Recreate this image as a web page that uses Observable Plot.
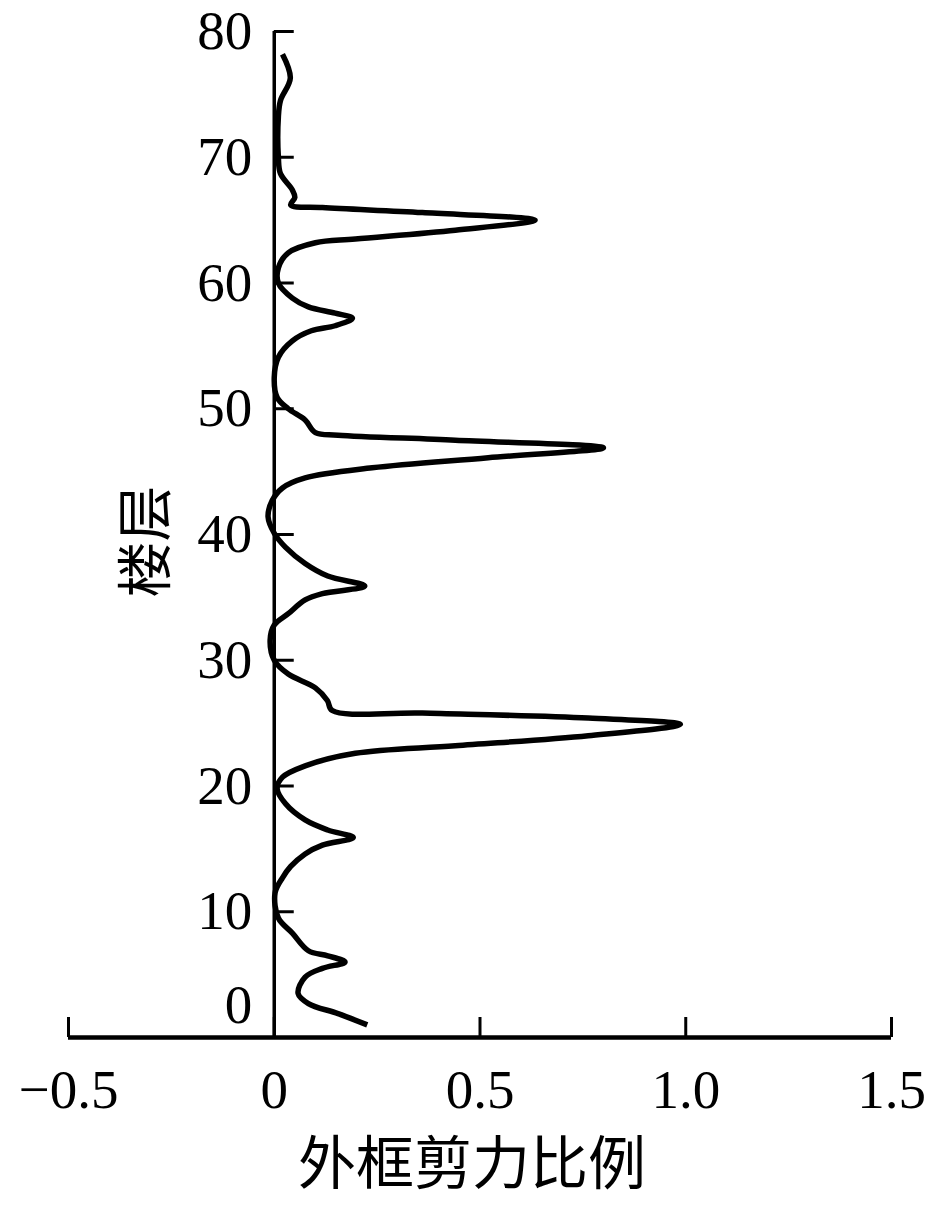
<!DOCTYPE html>
<html>
<head>
<meta charset="utf-8">
<script src="https://cdn.jsdelivr.net/npm/d3@7"></script>
<script src="https://cdn.jsdelivr.net/npm/@observablehq/plot@0.6"></script>
<style>
  html, body { margin: 0; padding: 0; background: #fff; }
  #chart svg { display: block; }
</style>
</head>
<body>
<div id="chart"></div>
<script>
// Floor (楼层) and outer-frame shear ratio (外框剪力比例)
const floors = [
  1.0, 1.9, 2.7, 3.5, 4.8, 5.5, 6.0, 6.5, 6.9, 8.3,
  9.5, 11.5, 12.7, 13.6, 14.6, 15.3, 15.9, 16.5, 17.3, 18.6,
  19.8, 20.7, 21.6, 22.6, 23.2, 24.0, 24.9, 25.4, 25.8, 26.0,
  26.8, 27.8, 28.9, 30.0, 31.6, 32.8, 33.7, 34.8, 35.3, 35.9,
  36.7, 37.7, 39.0, 40.1, 41.4, 42.7, 43.7, 44.5, 45.3, 46.1,
  46.9, 47.5, 47.9, 48.1, 49.1, 50.0, 50.9, 52.5, 54.1, 55.4,
  56.2, 56.6, 57.2, 57.6, 58.1, 58.8, 60.0, 61.2, 62.4, 63.2,
  63.5, 64.2, 65.0, 65.6, 66.0, 66.2, 66.8, 67.4, 68.7, 70.0,
  73.2, 74.5, 76.3, 78.2
];
const ratios = [
  0.226, 0.155, 0.083, 0.058, 0.075, 0.117, 0.172, 0.130, 0.083, 0.044,
  0.010, 0.002, 0.020, 0.040, 0.075, 0.117, 0.192, 0.130, 0.075, 0.027,
  0.007, 0.020, 0.075, 0.197, 0.440, 0.763, 0.987, 0.763, 0.360, 0.141,
  0.129, 0.100, 0.034, 0.000, -0.010, 0.000, 0.034, 0.075, 0.117, 0.220,
  0.130, 0.075, 0.027, 0.000, -0.015, -0.005, 0.020, 0.075, 0.238, 0.520,
  0.800, 0.440, 0.155, 0.100, 0.075, 0.034, 0.007, 0.000, 0.010, 0.044,
  0.090, 0.148, 0.190, 0.148, 0.083, 0.044, 0.010, 0.010, 0.034, 0.100,
  0.197, 0.440, 0.634, 0.360, 0.117, 0.040, 0.050, 0.044, 0.015, 0.010,
  0.010, 0.015, 0.039, 0.020
];

const xTicks = [-0.5, 0, 0.5, 1.0, 1.5];
const xTickLabels = ["\u22120.5", "0", "0.5", "1.0", "1.5"];
const yTicks = [0, 10, 20, 30, 40, 50, 60, 70, 80];
const xLabel = "外框剪力比例";
const yLabel = "楼层";

const data = floors.map((f, i) => ({floor: f, ratio: ratios[i]}));

const chart = Plot.plot({
  width: 945,
  height: 1205,
  marginLeft: 68,
  marginRight: 54,
  marginTop: 31,
  marginBottom: 168,
  style: {fontFamily: "'Liberation Serif', 'Noto Sans CJK SC', serif", background: "#fff", color: "#000"},
  x: {domain: [-0.5, 1.5]},
  y: {domain: [0, 80]},
  marks: [
    Plot.axisX(xTicks, {
      tickSize: -20, tickPadding: 51, fontSize: 55, strokeWidth: 3,
      tickFormat: (d) => xTickLabels[xTicks.indexOf(d)], label: null
    }),
    Plot.axisY(yTicks.filter(d => d > 0), {
      anchor: "left", x: 0, tickSize: -20, tickPadding: 42, fontSize: 55, strokeWidth: 3,
      tickFormat: d => String(d), label: null
    }),
    Plot.text(yTicks.filter(d => d === 0), {
      x: 0, y: d => d, text: d => String(d), textAnchor: "end",
      dx: -22, dy: -32, fontSize: 55
    }),
    Plot.ruleX([0], {strokeWidth: 3.5}),
    Plot.ruleY([0], {strokeWidth: 4.5}),
    Plot.line(data, {
      x: "ratio", y: "floor", curve: "catmull-rom",
      stroke: "#000", strokeWidth: 5.5, strokeLinejoin: "round", strokeLinecap: "butt"
    }),
    Plot.text([xLabel], {
      frameAnchor: "bottom", text: d => d, dy: 128, dx: -8,
      lineAnchor: "middle", textAnchor: "middle",
      fontSize: 58, fontFamily: "'Noto Sans CJK SC', sans-serif"
    }),
    Plot.text([yLabel], {
      frameAnchor: "left", text: d => d, dx: 79, dy: 7, rotate: -90,
      lineAnchor: "middle", textAnchor: "middle",
      fontSize: 56, fontFamily: "'Noto Sans CJK SC', sans-serif"
    })
  ]
});
document.getElementById("chart").appendChild(chart);
</script>
</body>
</html>
